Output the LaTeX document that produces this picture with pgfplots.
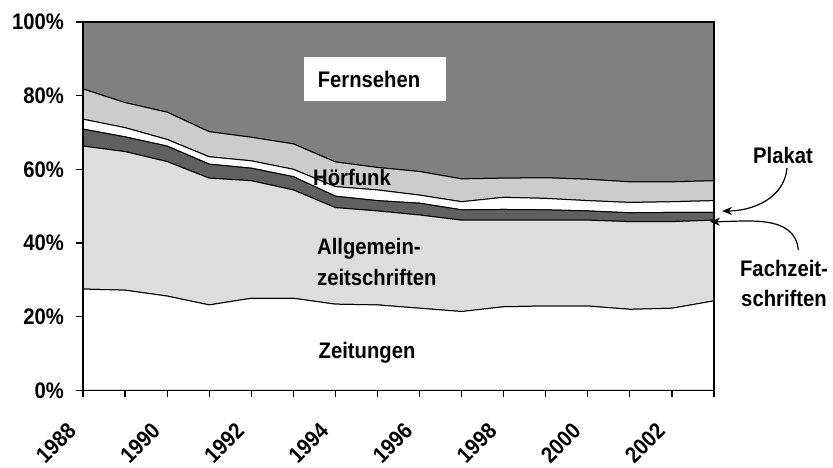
\documentclass[border=0pt]{standalone}
\usepackage{fontspec}
\setmainfont{Liberation Sans}[FakeStretch=0.9]
\usepackage{pgfplots}
\usepackage{pgfplotstable}
\pgfplotsset{compat=1.18}
\usetikzlibrary{arrows.meta}
\definecolor{fern}{HTML}{808080}
\definecolor{hoer}{HTML}{CCCCCC}
\definecolor{fach}{HTML}{606060}
\definecolor{allg}{HTML}{DDDDDD}
\pgfplotstableread{
x  Z    A    F   P   H   Fe
0  27.5 38.8 4.6 2.7 8.2 18.2
1  27.2 37.6 4.0 2.5 6.8 21.9
2  25.6 36.5 4.2 1.8 7.4 24.5
3  23.2 34.4 3.8 2.0 6.8 29.8
4  25.0 31.9 3.4 2.0 6.4 31.3
5  25.0 29.4 3.6 2.0 6.9 33.1
6  23.4 26.2 3.1 2.6 6.7 38.0
7  23.2 25.5 2.8 2.9 6.1 39.5
8  22.3 25.3 3.2 2.2 6.4 40.6
9  21.4 24.8 2.8 2.2 6.2 42.6
10 22.7 23.5 2.9 3.3 5.2 42.4
11 22.9 23.3 2.8 3.1 5.6 42.3
12 22.9 23.3 2.5 2.8 5.8 42.7
13 22.0 23.8 2.4 2.8 5.6 43.4
14 22.3 23.5 2.5 2.9 5.4 43.4
15 24.3 21.9 2.1 3.2 5.4 43.1
}\mydata
\newcommand\lf{\fontsize{22.5}{26}\selectfont\bfseries}
\begin{document}
\begin{tikzpicture}[x=1pt,y=1pt]
\useasboundingbox (-83,-76.6) rectangle (750,390.4);
\begin{axis}[
  at={(0,0)}, anchor=south west,
  width=631pt, height=368.5pt, scale only axis,
  xmin=0, xmax=15, ymin=0, ymax=100,
  stack plots=y, area style,
  axis on top,
  axis line style={line width=1.4pt},
  xtick={0,...,15},
  xticklabels={1988,,1990,,1992,,1994,,1996,,1998,,2000,,2002,},
  ytick={0,20,40,60,80,100},
  yticklabels={0\%,20\%,40\%,60\%,80\%,100\%},
  xtick pos=bottom, ytick pos=left,
  tick align=outside, major tick length=7pt,
  tick style={black, line width=1.2pt},
  ticklabel style={font=\lf},
  xticklabel style={xshift=-11pt, yshift=-30pt, rotate=45, anchor=east, inner sep=0pt},
  yticklabel style={anchor=east, inner sep=0pt, xshift=-12pt},
  every axis plot/.append style={draw=black, line width=1pt},
]
\addplot[fill=white] table[x=x,y=Z]{\mydata} \closedcycle;
\addplot[fill=allg] table[x=x,y=A]{\mydata} \closedcycle;
\addplot[fill=fach] table[x=x,y=F]{\mydata} \closedcycle;
\addplot[fill=white] table[x=x,y=P]{\mydata} \closedcycle;
\addplot[fill=hoer] table[x=x,y=H]{\mydata} \closedcycle;
\addplot[fill=fern] table[x=x,y=Fe]{\mydata} \closedcycle;
\end{axis}
\node[fill=white, inner sep=0pt, minimum width=142pt, minimum height=44pt] at (292,311.4) {};
\node[font=\lf, anchor=base, inner sep=0pt] at (286,302.7) {Fernsehen};
\node[font=\lf, anchor=base, inner sep=0pt] at (269,205.4) {Hörfunk};
\node[font=\lf, anchor=base west, inner sep=0pt] at (234,136.4) {Allgemein-};
\node[font=\lf, anchor=base west, inner sep=0pt] at (234,105.4) {zeitschriften};
\node[font=\lf, anchor=base, inner sep=0pt] at (284,32.4) {Zeitungen};
\node[font=\lf, anchor=base, inner sep=0pt] at (700,227.4) {Plakat};
\node[font=\lf, anchor=base, inner sep=0pt] at (701,113.7) {Fachzeit-};
\node[font=\lf, anchor=base, inner sep=0pt] at (701,83.7) {schriften};
\draw[line width=1.2pt, -{Stealth[length=10pt,width=8pt]}] (704,222.4) to[out=-95,in=0] (639,179.4);
\draw[line width=1.2pt, -{Stealth[length=10pt,width=8pt]}] (715.3,140.4) to[out=95,in=0] (627,168.7);
\end{tikzpicture}
\end{document}
